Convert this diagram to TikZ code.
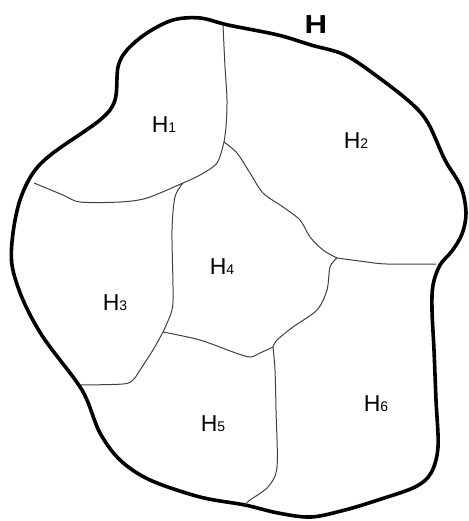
\documentclass[tikz,border=0pt]{standalone}
\usepackage{fontspec}
\setmainfont{Liberation Sans}
\usetikzlibrary{positioning}

\begin{document}
\begin{tikzpicture}[
        x=1pt, y=-1pt,
        border/.style={
            line width=3.6pt,
            line join=round
        },
        frontier/.style={
            line width=1pt,
            draw=black!75
        },
        region/.style={
            font=\fontsize{23}{23}\selectfont,
            inner sep=0pt
        }
    ]
    \useasboundingbox (0,0) rectangle (468,521);
    % outer boundary of H
    \draw[border] plot[smooth cycle, tension=0.55] coordinates {
        (173,20) (200,18) (228,25) (278,35) (311,45) (345,55) (378,77)
        (411,103) (428,123) (445,160) (461,187) (466,213) (462,234)
        (452,251) (440,265) (433,285) (432,310) (434,350) (436,400)
        (438,447) (431,473) (415,487) (378,500) (345,510) (311,517)
        (278,513) (245,505) (200,497) (150,480) (120,460) (100,433)
        (87,400) (76,381) (43,337) (23,300) (12,265) (13,233) (20,200)
        (33,173) (53,153) (100,120) (115,100) (118,67) (127,50) (147,33)};
    % junctions
    \coordinate (top12) at (223,25);
    \coordinate (j124) at (224,142);
    \coordinate (j134) at (183,183);
    \coordinate (left13) at (34,183);
    \coordinate (j246) at (337,258);
    \coordinate (right26) at (436,264);
    \coordinate (j456) at (273,347);
    \coordinate (bot56) at (245,505);
    \coordinate (j345) at (163,332);
    \coordinate (left35) at (81,385);
    % frontiers between the parts
    \draw[frontier] plot[smooth] coordinates {(top12) (225,67) (227,100) (226,127) (j124)};
    \draw[frontier] plot[smooth] coordinates {(j124) (217,163) (200,175) (j134) (147,198) (120,202) (80,202) (63,195) (left13)};
    \draw[frontier] plot[smooth] coordinates {(j124) (237,153) (250,173) (263,193) (283,207) (300,220) (310,237) (323,250) (j246)};
    \draw[frontier] plot[smooth] coordinates {(j246) (367,262) (387,264) (right26)};
    \draw[frontier] plot[smooth] coordinates {(j246) (330,267) (327,290) (317,310) (293,327) (277,340) (j456)};
    \draw[frontier] plot[smooth] coordinates {(j456) (275,370) (276,410) (277,467) (268,487) (250,500) (bot56)};
    \draw[frontier] plot[smooth] coordinates {(j456) (260,353) (250,357) (233,352) (200,340) (j345)};
    \draw[frontier] plot[smooth] coordinates {(j345) (172,310) (173,287) (172,230) (175,197) (j134)};
    \draw[frontier] plot[smooth] coordinates {(j345) (153,350) (140,370) (133,380) (123,384) (left35)};
    % labels
    \node[font=\fontsize{26}{26}\selectfont\bfseries] (h) at (316,25) {\scalebox{1.2}[1]{H}};
    \node[region] (h1) at (164,125) {H{\fontsize{14}{14}\selectfont 1}};
    \node[region] (h2) at (356,141) {H{\fontsize{14}{14}\selectfont 2}};
    \node[region] (h3) at (115,303) {H{\fontsize{14}{14}\selectfont 3}};
    \node[region] (h4) at (222,267) {H{\fontsize{14}{14}\selectfont 4}};
    \node[region] (h5) at (213,424) {H{\fontsize{14}{14}\selectfont 5}};
    \node[region] (h6) at (376,404) {H{\fontsize{14}{14}\selectfont 6}};
\end{tikzpicture}
\end{document}
